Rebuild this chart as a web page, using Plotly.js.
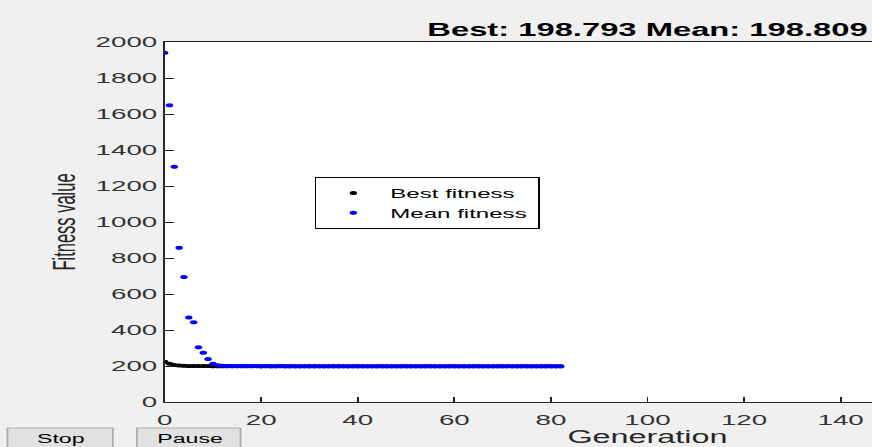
<!DOCTYPE html>
<html>
<head>
<meta charset="utf-8">
<script src="https://cdn.plot.ly/plotly-3.0.1.min.js"></script>
<style>
  html, body { margin: 0; padding: 0; width: 872px; height: 447px; overflow: hidden; background: #f0f0f0; }
  #chart { width: 621px; height: 447px; transform: scaleX(1.85); transform-origin: 0 0; }
</style>
</head>
<body>
<div id="chart"></div>
<script>
// Genetic algorithm progress: best and mean fitness per generation
const generations = [];
for (let g = 0; g <= 82; g++) generations.push(g);

const bestFitness = [
  224, 212, 206, 203, 201.5, 200.6, 200.1, 199.8, 199.6, 199.4,
  199.3, 199.2, 199.15, 199.1, 199.05, 199.02, 199.0, 198.98, 198.96, 198.95,
  198.94, 198.93, 198.92, 198.91, 198.9, 198.89, 198.88, 198.88, 198.87, 198.86,
  198.86, 198.85, 198.85, 198.84, 198.84, 198.83, 198.83, 198.83, 198.82, 198.82,
  198.82, 198.81, 198.81, 198.81, 198.81, 198.8, 198.8, 198.8, 198.8, 198.8,
  198.8, 198.8, 198.8, 198.8, 198.8, 198.8, 198.8, 198.797, 198.797, 198.797,
  198.797, 198.797, 198.797, 198.796, 198.796, 198.796, 198.796, 198.796, 198.795, 198.795,
  198.795, 198.795, 198.795, 198.794, 198.794, 198.794, 198.794, 198.794, 198.793, 198.793,
  198.793, 198.793, 198.793
];

const meanFitness = [
  1940, 1648, 1307, 857, 694, 470, 443, 304, 274, 239,
  212, 204, 201, 200.3, 199.9, 199.7, 199.6, 199.5, 199.8, 199.4,
  199.3, 199.6, 199.3, 199.2, 199.4, 199.2, 199.1, 199.3, 199.1, 199.0,
  199.2, 199.0, 199.0, 199.1, 198.95, 198.97, 199.05, 198.93, 198.92, 199.0,
  198.9, 198.91, 198.96, 198.88, 198.87, 198.9, 198.86, 198.85, 198.89, 198.85,
  198.84, 198.86, 198.83, 198.83, 198.85, 198.82, 198.82, 198.84, 198.82, 198.81,
  198.83, 198.81, 198.81, 198.82, 198.81, 198.81, 198.815, 198.81, 198.81, 198.812,
  198.81, 198.81, 198.811, 198.81, 198.81, 198.81, 198.81, 198.809, 198.81, 198.809,
  198.809, 198.809, 198.809
];

// x runs 0..200; only the ticks inside the visible window are labelled
const xTicks = [0, 20, 40, 60, 80, 100, 120, 140];
const yTicks = [0, 200, 400, 600, 800, 1000, 1200, 1400, 1600, 1800, 2000];

const bestLast = bestFitness[bestFitness.length - 1];
const meanLast = meanFitness[meanFitness.length - 1];

const axisColor = '#262626';
const fontFamily = 'Liberation Sans, Arial, sans-serif';
const tickFont = { family: fontFamily, size: 15, color: '#333333' };

const traces = [
  {
    x: generations, y: bestFitness, type: 'scatter', mode: 'markers',
    name: 'Best fitness',
    marker: { color: '#000000', size: 4 }
  },
  {
    x: generations, y: meanFitness, type: 'scatter', mode: 'markers',
    name: 'Mean fitness',
    marker: { color: '#0000ff', size: 4 }
  }
];

// plot area spans 89..611 px horizontally, 42..402 px vertically
const L = 89, T = 42, W = 522, H = 360;
const px = v => (v - L) / W;
const py = v => (T + H - v) / H;

const buttonShape = (x0, x1) => ({
  type: 'rect', xref: 'paper', yref: 'paper',
  x0: px(x0), x1: px(x1), y0: py(452), y1: py(428),
  fillcolor: '#e1e1e1', line: { color: '#adadad', width: 1 }, layer: 'above'
});

const buttonLabel = (text, cx) => ({
  text: text, xref: 'paper', yref: 'paper', x: px(cx), y: py(438.5),
  xanchor: 'center', yanchor: 'middle', showarrow: false,
  font: { family: fontFamily, size: 12.5, color: '#000000' }
});

const layout = {
  width: 621, height: 447,
  margin: { l: L, r: 621 - L - W, t: T, b: 447 - T - H },
  paper_bgcolor: '#f0f0f0',
  plot_bgcolor: '#ffffff',
  showlegend: true,
  title: {
    text: '<b>Best: ' + bestLast.toFixed(3) + ' Mean: ' + meanLast.toFixed(3) + '</b>',
    font: { family: fontFamily, size: 17.7, color: '#000000' },
    xref: 'paper', x: 0.5, xanchor: 'center',
    yref: 'container', y: 1 - 29.5 / 447, yanchor: 'middle'
  },
  xaxis: {
    range: [0, 200], tickvals: xTicks, ticktext: xTicks.map(String),
    ticks: 'inside', ticklen: 5, tickcolor: axisColor, tickwidth: 1,
    showline: true, linecolor: axisColor, linewidth: 1, mirror: true,
    showgrid: false, zeroline: false, tickfont: tickFont, ticklabelstandoff: 4,
    title: { text: 'Generation', font: { family: fontFamily, size: 17.5, color: '#262626' }, standoff: 5 }
  },
  yaxis: {
    range: [0, 2000], tickvals: yTicks, ticktext: yTicks.map(String),
    ticks: 'inside', ticklen: 5, tickcolor: axisColor, tickwidth: 1,
    showline: true, linecolor: axisColor, linewidth: 1, mirror: true,
    showgrid: false, zeroline: false, tickfont: tickFont,
    title: { text: 'Fitness value', font: { family: fontFamily, size: 16.5, color: '#262626' }, standoff: 6 }
  },
  legend: {
    x: px(170), y: py(177), xanchor: 'left', yanchor: 'top',
    bgcolor: '#ffffff', bordercolor: '#000000', borderwidth: 1,
    font: { family: fontFamily, size: 13, color: '#000000' }
  },
  shapes: [buttonShape(4, 61), buttonShape(74, 130)],
  annotations: [buttonLabel('Stop', 33), buttonLabel('Pause', 102.5)]
};

Plotly.newPlot('chart', traces, layout, { displayModeBar: false, staticPlot: true });
</script>
</body>
</html>
